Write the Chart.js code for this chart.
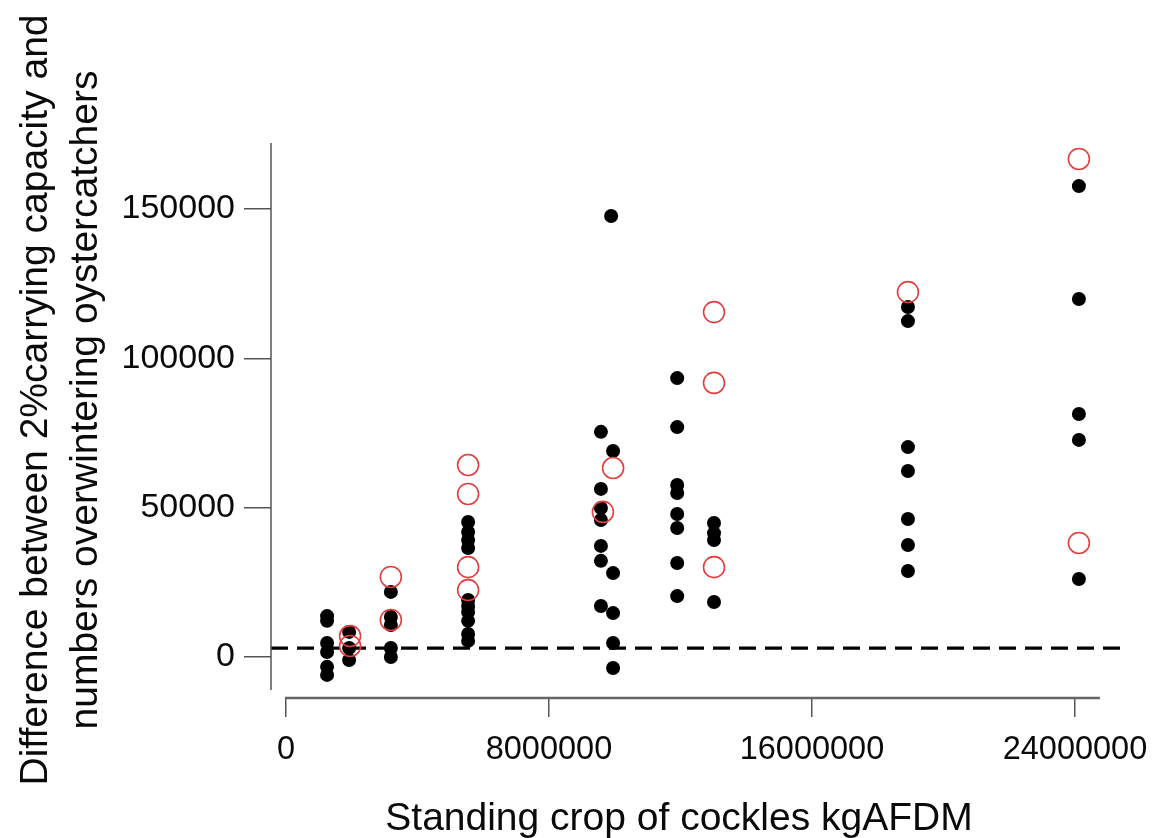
<!DOCTYPE html>
<html>
<head>
<meta charset="utf-8">
<title>Cockle stock vs oystercatcher capacity</title>
<script src="https://cdn.jsdelivr.net/npm/chart.js@4.4.1/dist/chart.umd.min.js"></script>
<style>
  html, body { margin: 0; padding: 0; background: #fff; }
  canvas { display: block; }
</style>
</head>
<body>
<canvas id="chart" width="1154" height="838"></canvas>
<script>
// standing crop (kgAFDM) and capacity difference for each site-year
const blackX = [
  1250000, 1250000, 1250000, 1250000, 1250000, 1250000,
  1920000, 1920000, 1920000,
  3190000, 3190000, 3190000, 3190000, 3190000,
  5540000, 5540000, 5540000, 5540000, 5540000, 5540000, 5540000, 5540000, 5540000, 5540000,
  9580000, 9580000, 9580000, 9580000, 9580000, 9580000, 9580000,
  9950000, 9950000, 9950000, 9950000, 9950000, 9890000,
  11900000, 11900000, 11900000, 11900000, 11900000, 11900000, 11900000, 11900000,
  13020000, 13020000, 13020000, 13020000,
  18920000, 18920000, 18920000, 18920000, 18920000, 18920000, 18920000,
  24120000, 24120000, 24120000, 24120000, 24120000
];
const blackY = [
  13700, 12100, 4700, 1700, -3300, -6000,
  8400, 3000, -1000,
  21800, 13400, 10700, 3000, 0,
  45200, 41900, 39200, 36500, 19100, 17100, 15100, 12100, 7700, 5400,
  75400, 56300, 49900, 45900, 37200, 32200, 17100,
  69000, 28100, 14700, 4700, -3700, 147700,
  93400, 77000, 57600, 54900, 47900, 43200, 31500, 20400,
  44900, 41500, 39200, 18400,
  117200, 112500, 70300, 62300, 46200, 37500, 28800,
  157700, 119900, 81400, 72700, 26100
];

// open red circles
const redX = [
  1950000, 1950000,
  3190000, 3190000,
  5540000, 5540000, 5540000, 5540000,
  9640000, 9950000,
  13020000, 13020000, 13020000,
  18920000,
  24120000, 24120000
];
const redY = [
  7000, 3700,
  26800, 12400,
  64300, 54600, 30100, 22400,
  48600, 63300,
  115500, 91800, 30100,
  122200,
  166800, 38200
];

// reference level (dashed line)
const refLevel = 3000;

const xTicks = [0, 8000000, 16000000, 24000000];
const yTicks = [0, 50000, 100000, 150000];

const xRange = [-456000, 25370000];
const yRange = [-13730, 172140];
// drawn extent of the two axis lines
const xLineSpan = [-30000, 24760000];
const yLineSpan = [-11050, 172100];

const xTitle = 'Standing crop of cockles kgAFDM';
const yTitle = ['Difference between 2%carrying capacity and', 'numbers overwintering oystercatchers'];

const FONT = '"Liberation Sans", Arial, sans-serif';

const toPoints = (xs, ys) => xs.map((x, i) => ({ x, y: ys[i] }));

// detached axis lines + axis titles, drawn the R way
const axisFrame = {
  id: 'axisFrame',
  afterDraw(chart) {
    const { ctx, chartArea, scales: { x, y } } = chart;
    ctx.save();
    ctx.strokeStyle = '#555';
    ctx.lineWidth = 1.5;
    ctx.beginPath();
    ctx.moveTo(chartArea.left, y.getPixelForValue(yLineSpan[1]));
    ctx.lineTo(chartArea.left, y.getPixelForValue(yLineSpan[0]));
    ctx.stroke();
    ctx.lineWidth = 2.5;
    ctx.strokeStyle = '#666';
    ctx.beginPath();
    ctx.moveTo(x.getPixelForValue(xLineSpan[0]), chartArea.bottom);
    ctx.lineTo(x.getPixelForValue(xLineSpan[1]), chartArea.bottom);
    ctx.stroke();

    ctx.fillStyle = '#0a0a0a';
    ctx.font = `39px ${FONT}`;
    ctx.textAlign = 'center';
    ctx.textBaseline = 'alphabetic';
    ctx.fillText(xTitle, 679, 830);

    const yc = 400;
    yTitle.forEach((line, i) => {
      ctx.save();
      ctx.translate(47 + i * 50, yc);
      ctx.rotate(-Math.PI / 2);
      ctx.fillText(line, 0, 0);
      ctx.restore();
    });
    ctx.restore();
  }
};

new Chart(document.getElementById('chart'), {
  type: 'scatter',
  data: {
    datasets: [
      {
        label: 'model',
        data: toPoints(redX, redY),
        pointStyle: 'circle',
        pointRadius: 10.5,
        pointBorderWidth: 1.6,
        pointBorderColor: 'rgb(226,62,62)',
        pointBackgroundColor: 'rgba(0,0,0,0)',
        order: 1
      },
      {
        type: 'line',
        label: 'reference',
        data: [{ x: xRange[0], y: refLevel }, { x: xRange[1], y: refLevel }],
        borderColor: '#000',
        borderWidth: 3.2,
        borderDash: [17, 9],
        pointRadius: 0,
        fill: false,
        order: 2
      },
      {
        label: 'observed',
        data: toPoints(blackX, blackY),
        pointStyle: 'circle',
        pointRadius: 7,
        pointBorderWidth: 0,
        pointBackgroundColor: '#000',
        order: 3
      }
    ]
  },
  options: {
    responsive: false,
    animation: false,
    layout: { padding: { top: 143, right: 34, left: 0, bottom: 0 } },
    plugins: { legend: { display: false }, tooltip: { enabled: false } },
    scales: {
      x: {
        type: 'linear',
        position: 'bottom',
        min: xRange[0],
        max: xRange[1],
        border: { display: false },
        grid: { drawOnChartArea: false, drawTicks: true, tickLength: 19, color: '#555', lineWidth: 1.5 },
        ticks: {
          font: { family: FONT, size: 32.5 },
          color: '#0a0a0a',
          padding: 14,
          maxRotation: 0,
          autoSkip: false,
          callback: v => String(v)
        },
        afterBuildTicks: s => { s.ticks = xTicks.map(v => ({ value: v })); },
        afterFit: s => { s.height = 140; s.paddingLeft = 0; s.paddingRight = 0; }
      },
      y: {
        type: 'linear',
        position: 'left',
        min: yRange[0],
        max: yRange[1],
        border: { display: false },
        grid: { drawOnChartArea: false, drawTicks: true, tickLength: 27, color: '#555', lineWidth: 1.5 },
        ticks: {
          font: { family: FONT, size: 34 },
          color: '#0a0a0a',
          padding: 9,
          autoSkip: false,
          callback: v => String(v)
        },
        afterBuildTicks: s => { s.ticks = yTicks.map(v => ({ value: v })); },
        afterFit: s => { s.width = 271; s.paddingTop = 0; s.paddingBottom = 0; }
      }
    }
  },
  plugins: [axisFrame]
});
</script>
</body>
</html>
